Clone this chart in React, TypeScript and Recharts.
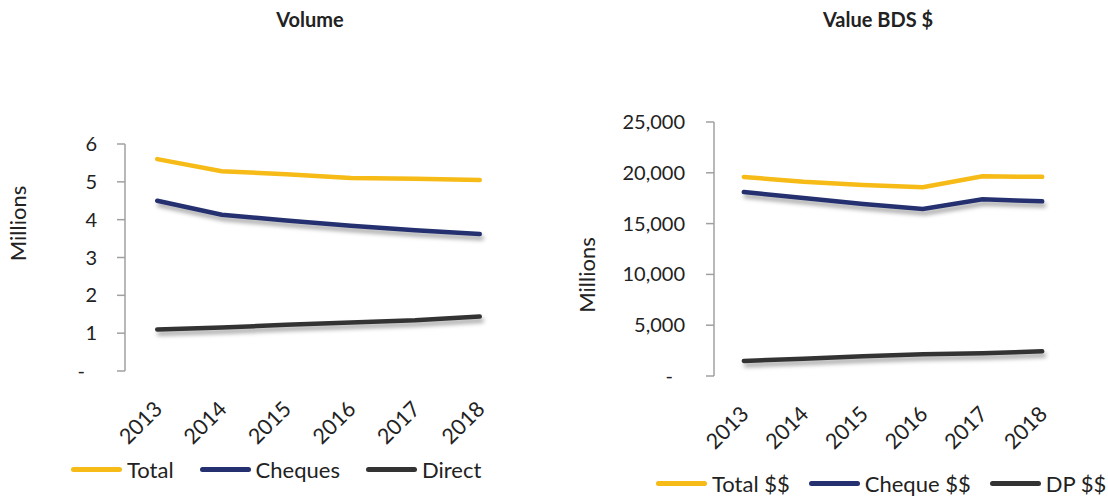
import React from "react";
import { LineChart, Line, XAxis, YAxis } from "recharts";

const years = ["2013", "2014", "2015", "2016", "2017", "2018"];

// Volume (millions)
const volumeTotal = [5.6, 5.28, 5.2, 5.1, 5.08, 5.05];
const volumeCheques = [4.5, 4.13, 3.98, 3.84, 3.72, 3.62];
const volumeDirect = [1.1, 1.15, 1.22, 1.28, 1.34, 1.44];
const volumeTicks = [0, 1, 2, 3, 4, 5, 6];

// Value BDS $ (millions)
const valueTotal = [19590, 19120, 18800, 18570, 19650, 19600];
const valueCheque = [18110, 17520, 16930, 16440, 17390, 17190];
const valueDP = [1480, 1700, 1940, 2130, 2230, 2430];
const valueTicks = [0, 5000, 10000, 15000, 20000, 25000];

const YELLOW = "#F6BB16";
const NAVY = "#24306F";
const DARK = "#333333";
const AXIS = "#A0A0A0";
const FONT = "Lato, 'Open Sans', sans-serif";

const volumeData = years.map((year, i) => ({
  year,
  pos: i + 0.5,
  total: volumeTotal[i],
  cheques: volumeCheques[i],
  direct: volumeDirect[i],
}));

const valueData = years.map((year, i) => ({
  year,
  pos: i + 0.5,
  total: valueTotal[i],
  cheque: valueCheque[i],
  dp: valueDP[i],
}));

const labelTicks = years.map((_, i) => i + 0.5);
const boundaryTicks = [...years.map((_, i) => i), years.length];

const fmt = (v: number) => (v === 0 ? "-" : v.toLocaleString("en-US"));

const YTick = (props: any) => {
  const { x, y, payload } = props;
  const isZero = payload.value === 0;
  return (
    <text
      x={x}
      y={y}
      dx={isZero ? -12 : 0}
      dy="0.35em"
      textAnchor="end"
      fill="#222"
      fontSize={20}
      fontFamily={FONT}
    >
      {fmt(payload.value)}
    </text>
  );
};

const YearTick = (props: any) => {
  const { x, y, payload } = props;
  const idx = Math.round(payload.value - 0.5);
  return (
    <g transform={`translate(${x + 1},${y + 26})`}>
      <text
        x={0}
        y={0}
        dy="0.35em"
        textAnchor="end"
        transform="rotate(-45)"
        fill="#222"
        fontSize={21.5}
        fontFamily={FONT}
      >
        {years[idx]}
      </text>
    </g>
  );
};

const LegendRow = ({
  items,
  left,
  top,
  gap,
}: {
  items: { label: string; color: string }[];
  left: number;
  top: number;
  gap: number;
}) => (
  <div
    style={{
      position: "absolute",
      left,
      top,
      display: "flex",
      alignItems: "center",
      gap,
      fontFamily: FONT,
      fontSize: 22,
      color: "#222",
      whiteSpace: "nowrap",
    }}
  >
    {items.map((it) => (
      <div key={it.label} style={{ display: "flex", alignItems: "center" }}>
        <span
          style={{
            display: "inline-block",
            width: 51,
            height: 5,
            borderRadius: 2.5,
            background: it.color,
            marginRight: 5,
          }}
        />
        <span>{it.label}</span>
      </div>
    ))}
  </div>
);

const Title = ({ text, cx }: { text: string; cx: number }) => (
  <div
    style={{
      position: "absolute",
      left: cx - 100,
      width: 200,
      top: 7,
      textAlign: "center",
      fontFamily: FONT,
      fontWeight: 700,
      fontSize: 20,
      color: "#222",
    }}
  >
    {text}
  </div>
);

const App = () => {
  return (
    <div style={{ position: "absolute", left: 0, top: 0, width: 1108, height: 500, background: "#fff" }}>
      <style>{`.shade path { filter: drop-shadow(2px 4px 2px rgba(0,0,0,0.35)); }`}</style>
      <Title text="Volume" cx={310} />
      <Title text="Value BDS $" cx={878} />

      <div style={{ position: "absolute", left: 0, top: 0 }}>
        <LineChart width={560} height={500} data={volumeData} margin={{ top: 144, right: 48, bottom: 0, left: 0 }}>
          <XAxis
            xAxisId="grid"
            dataKey="pos"
            type="number"
            domain={[0, years.length]}
            ticks={boundaryTicks}
            tick={false}
            tickSize={7}
            height={0}
            tickLine={{ stroke: AXIS, strokeWidth: 1.5 }}
            axisLine={{ stroke: AXIS, strokeWidth: 1.5 }}
          />
          <XAxis
            xAxisId="lab"
            dataKey="pos"
            type="number"
            domain={[0, years.length]}
            ticks={labelTicks}
            interval={0}
            tick={<YearTick />}
            tickLine={false}
            axisLine={false}
            height={129}
          />
          <YAxis
            domain={[0, 6]}
            ticks={volumeTicks}
            width={125}
            tickSize={8}
            tickMargin={20}
            tick={<YTick />}
            tickLine={{ stroke: AXIS, strokeWidth: 1.5 }}
            axisLine={{ stroke: AXIS, strokeWidth: 1.5 }}
            label={{
              value: "Millions",
              angle: -90,
              position: "center",
              dx: -44,
              dy: -34,
              fill: "#222",
              fontSize: 22,
              fontFamily: FONT,
            }}
          />
          <Line xAxisId="lab" dataKey="total" stroke={YELLOW} strokeWidth={4.5} dot={false} isAnimationActive={false} strokeLinecap="round" />
          <Line xAxisId="lab" dataKey="cheques" className="shade" stroke={NAVY} strokeWidth={4.5} dot={false} isAnimationActive={false} strokeLinecap="round" />
          <Line xAxisId="lab" dataKey="direct" className="shade" stroke={DARK} strokeWidth={4.5} dot={false} isAnimationActive={false} strokeLinecap="round" />
        </LineChart>
      </div>

      <div style={{ position: "absolute", left: 560, top: 0 }}>
        <LineChart width={548} height={500} data={valueData} margin={{ top: 122, right: 36, bottom: 0, left: 0 }}>
          <XAxis
            xAxisId="grid"
            dataKey="pos"
            type="number"
            domain={[0, years.length]}
            ticks={boundaryTicks}
            tick={false}
            tickSize={7}
            height={0}
            tickLine={{ stroke: AXIS, strokeWidth: 1.5 }}
            axisLine={{ stroke: AXIS, strokeWidth: 1.5 }}
          />
          <XAxis
            xAxisId="lab"
            dataKey="pos"
            type="number"
            domain={[0, years.length]}
            ticks={labelTicks}
            interval={0}
            tick={<YearTick />}
            tickLine={false}
            axisLine={false}
            height={124}
          />
          <YAxis
            domain={[0, 25000]}
            ticks={valueTicks}
            width={154}
            tickSize={8}
            tickMargin={21}
            tick={<YTick />}
            tickLine={{ stroke: AXIS, strokeWidth: 1.5 }}
            axisLine={{ stroke: AXIS, strokeWidth: 1.5 }}
            label={{
              value: "Millions",
              angle: -90,
              position: "center",
              dx: -50,
              dy: 26,
              fill: "#222",
              fontSize: 22,
              fontFamily: FONT,
            }}
          />
          <Line xAxisId="lab" dataKey="total" stroke={YELLOW} strokeWidth={4.5} dot={false} isAnimationActive={false} strokeLinecap="round" />
          <Line xAxisId="lab" dataKey="cheque" className="shade" stroke={NAVY} strokeWidth={4.5} dot={false} isAnimationActive={false} strokeLinecap="round" />
          <Line xAxisId="lab" dataKey="dp" className="shade" stroke={DARK} strokeWidth={4.5} dot={false} isAnimationActive={false} strokeLinecap="round" />
        </LineChart>
      </div>

      <LegendRow
        left={71}
        top={456}
        gap={26}
        items={[
          { label: "Total", color: YELLOW },
          { label: "Cheques", color: NAVY },
          { label: "Direct", color: DARK },
        ]}
      />
      <LegendRow
        left={656}
        top={470}
        gap={19}
        items={[
          { label: "Total $$", color: YELLOW },
          { label: "Cheque $$", color: NAVY },
          { label: "DP $$", color: DARK },
        ]}
      />
    </div>
  );
};

export default App;
